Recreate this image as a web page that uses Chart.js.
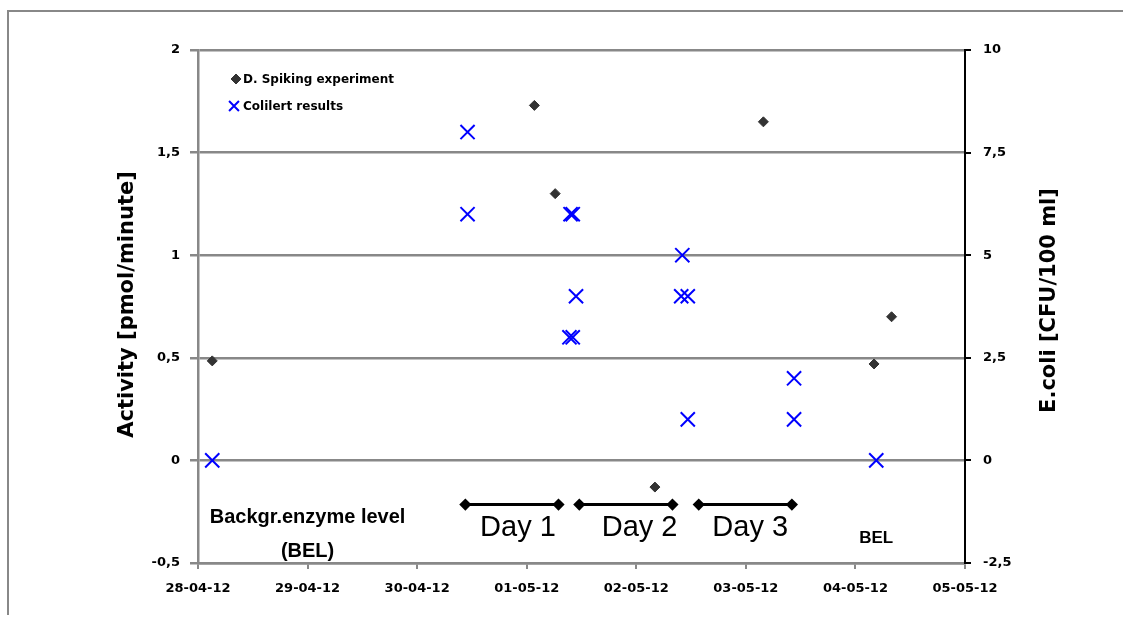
<!DOCTYPE html>
<html>
<head>
<meta charset="utf-8">
<script src="https://cdn.jsdelivr.net/npm/chart.js@4.4.1/dist/chart.umd.min.js"></script>
<style>
  html, body { margin: 0; padding: 0; background: #fff; }
</style>
</head>
<body>
<canvas id="chart" width="1123" height="620"></canvas>
<script>
// x values are days counted from 28-04-12
const dateLabels = ['28-04-12', '29-04-12', '30-04-12', '01-05-12', '02-05-12', '03-05-12', '04-05-12', '05-05-12']

const spikeDays = [0.13, 3.07, 3.26, 4.17, 5.16, 6.17, 6.33]
const spikeActivity = [0.485, 1.73, 1.30, -0.13, 1.65, 0.47, 0.70]

const coliDays = [0.13, 2.46, 2.46, 3.40, 3.42, 3.45, 3.39, 3.42, 4.42, 4.41, 4.47, 4.47, 5.44, 5.44, 6.19]
const coliCounts = [0, 8, 6, 6, 6, 4, 3, 3, 5, 4, 4, 1, 2, 1, 0]

// sampling periods drawn as bars under the data
const periodStart = [2.44, 3.48, 4.57]
const periodEnd = [3.29, 4.33, 5.42]
const periodLevel = -0.215

const notes = [
  { text: 'Backgr.enzyme level', x: 1.0, y: -0.28, font: 'bold 20px "Liberation Sans"' },
  { text: '(BEL)', x: 1.0, y: -0.445, font: 'bold 20px "Liberation Sans"' },
  { text: 'Day 1', x: 2.92, y: -0.33, font: '29px "Liberation Sans"' },
  { text: 'Day 2', x: 4.03, y: -0.33, font: '29px "Liberation Sans"' },
  { text: 'Day 3', x: 5.04, y: -0.33, font: '29px "Liberation Sans"' },
  { text: 'BEL', x: 6.19, y: -0.38, font: 'bold 17px "Liberation Sans"' }
]

const comma = v => String(v).replace('.', ',')
const tickFont = { family: 'DejaVu Sans', size: 13, weight: 'bold' }

const periodData = []
periodStart.forEach((s, i) => {
  periodData.push({ x: s, y: periodLevel }, { x: periodEnd[i], y: periodLevel })
  if (i < periodStart.length - 1) periodData.push({ x: (periodEnd[i] + periodStart[i + 1]) / 2, y: null })
})

const extras = {
  id: 'extras',
  beforeDraw (chart) {
    const ctx = chart.ctx
    ctx.save()
    ctx.strokeStyle = '#888'
    ctx.lineWidth = 2
    ctx.beginPath()
    ctx.moveTo(8, 615); ctx.lineTo(8, 11); ctx.lineTo(1123, 11)
    ctx.stroke()
    ctx.restore()
  },
  afterDraw (chart) {
    const { ctx, chartArea, scales } = chart
    ctx.save()
    ctx.fillStyle = '#000'
    ctx.textAlign = 'center'
    ctx.textBaseline = 'middle'
    notes.forEach(n => {
      ctx.font = n.font
      ctx.fillText(n.text, scales.x.getPixelForValue(n.x), scales.y.getPixelForValue(n.y))
    })

    // axis titles, both reading bottom to top
    const midY = (chartArea.top + chartArea.bottom) / 2
    ctx.font = 'bold 21px "DejaVu Sans"'
    ctx.translate(chartArea.left - 70, midY - 2)
    ctx.rotate(-Math.PI / 2)
    ctx.fillText('Activity [pmol/minute]', 0, 0)
    ctx.setTransform(1, 0, 0, 1, 0, 0)
    ctx.translate(chartArea.right + 85, midY - 6)
    ctx.rotate(-Math.PI / 2)
    ctx.fillText('E.coli [CFU/100 ml]', 0, 0)
    ctx.setTransform(1, 0, 0, 1, 0, 0)

    // legend
    const lx = chartArea.left + 38
    const ly = chartArea.top + 29
    Chart.helpers.drawPoint(ctx, { pointStyle: 'rectRot', radius: 5, borderWidth: 1 }, lx, ly)
    ctx.fillStyle = '#333'; ctx.strokeStyle = '#333'
    ctx.beginPath()
    Chart.helpers.drawPoint(ctx, { pointStyle: 'rectRot', radius: 5, borderWidth: 1 }, lx, ly)
    ctx.strokeStyle = '#0000ff'; ctx.lineWidth = 2
    Chart.helpers.drawPoint(ctx, { pointStyle: 'crossRot', radius: 7, borderWidth: 2 }, lx - 2, ly + 27)
    ctx.fillStyle = '#000'
    ctx.textAlign = 'left'
    ctx.font = 'bold 12px "DejaVu Sans"'
    ctx.fillText('D. Spiking experiment', lx + 7, ly + 1)
    ctx.fillText('Colilert results', lx + 7, ly + 28)
    ctx.restore()
  }
}

new Chart(document.getElementById('chart'), {
  type: 'scatter',
  data: {
    datasets: [
      {
        label: 'D. Spiking experiment',
        data: spikeDays.map((d, i) => ({ x: d, y: spikeActivity[i] })),
        yAxisID: 'y',
        pointStyle: 'rectRot',
        pointRadius: 5,
        backgroundColor: '#333',
        borderColor: '#333',
        borderWidth: 1
      },
      {
        label: 'Colilert results',
        data: coliDays.map((d, i) => ({ x: d, y: coliCounts[i] })),
        yAxisID: 'y2',
        pointStyle: 'crossRot',
        pointRadius: 10,
        borderColor: '#0000ff',
        backgroundColor: '#0000ff',
        borderWidth: 2
      },
      {
        label: 'periods',
        data: periodData,
        yAxisID: 'y',
        showLine: true,
        spanGaps: false,
        borderColor: '#000',
        borderWidth: 3,
        pointStyle: 'rectRot',
        pointRadius: 4,
        backgroundColor: '#000'
      }
    ]
  },
  options: {
    responsive: false,
    animation: false,
    devicePixelRatio: 1,
    layout: { padding: { top: 50, left: 0, right: 0, bottom: 0 } },
    plugins: { legend: { display: false }, tooltip: { enabled: false } },
    scales: {
      x: {
        type: 'linear',
        min: 0,
        max: 7,
        afterFit: s => { s.height = 57 },
        ticks: { stepSize: 1, callback: v => dateLabels[v], font: tickFont, color: '#000', padding: 12, maxRotation: 0 },
        grid: { drawOnChartArea: false, drawTicks: true, tickLength: 6, color: '#888', lineWidth: 2 },
        border: { color: '#888', width: 2.5 }
      },
      y: {
        position: 'left',
        min: -0.5,
        max: 2,
        afterFit: s => { s.width = 198 },
        ticks: { stepSize: 0.5, callback: comma, font: tickFont, color: '#000', padding: 10 },
        grid: { color: '#888', lineWidth: 2.5, tickLength: 8 },
        border: { color: '#888', width: 2.5 }
      },
      y2: {
        position: 'right',
        min: -2.5,
        max: 10,
        afterFit: s => { s.width = 158 },
        ticks: { stepSize: 2.5, callback: comma, font: tickFont, color: '#000', padding: 12 },
        grid: { drawOnChartArea: false, color: '#000', lineWidth: 2, tickLength: 6 },
        border: { color: '#000', width: 2 }
      }
    }
  },
  plugins: [extras]
})
</script>
</body>
</html>
